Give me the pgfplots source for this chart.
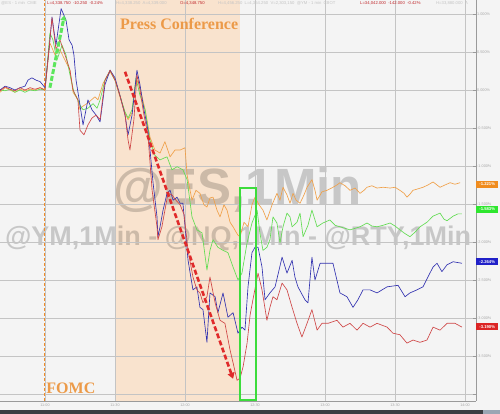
\documentclass[border=0pt]{standalone}
\usepackage{fontspec}
\setmainfont{Liberation Sans}
\newfontfamily\annfont{Liberation Serif}
\usepackage{pgfplots}
\pgfplotsset{compat=1.18}
\usetikzlibrary{arrows.meta}
\definecolor{bgc}{HTML}{F4F4F4}
\definecolor{pressc}{HTML}{F9E3CE}
\definecolor{gridc}{HTML}{C4C4C4}
\definecolor{axc}{HTML}{9A9A9A}
\definecolor{labc}{HTML}{A8A8A8}
\definecolor{esc}{HTML}{F0A048}
\definecolor{nqc}{HTML}{62DC52}
\definecolor{ymc}{HTML}{3232B0}
\definecolor{rtyc}{HTML}{CF4646}
\definecolor{annc}{HTML}{EC9A48}
\definecolor{fomcl}{HTML}{F08C28}
\definecolor{tagor}{HTML}{F08C1E}
\definecolor{taggr}{HTML}{2EE62E}
\definecolor{tagbl}{HTML}{2020C8}
\definecolor{tagrd}{HTML}{DC2424}
\definecolor{boxg}{HTML}{3CDC3C}
\definecolor{arrg}{HTML}{5CE65C}
\definecolor{arrr}{HTML}{E02A2A}
\definecolor{topred}{HTML}{C0282C}
\definecolor{topgr}{HTML}{C4C4C4}
\definecolor{barc}{HTML}{3A3D42}
\definecolor{barl}{HTML}{9AA6B4}
\begin{document}
\begin{tikzpicture}[x=1pt,y=1pt]
\useasboundingbox (0,-13) rectangle (500,401);
\fill[bgc] (0,-13) rectangle (500,401);
\fill[barc] (0,-13) rectangle (500,-9);
\fill[barl] (483,-13) rectangle (500,-9);
% press conference window (30 to 83.6 min after 11:00)
\fill[pressc] (115,0) rectangle (240,401);
% watermarks
\node[text=black, text opacity=0.18, font=\bfseries\fontsize{51}{51}\selectfont] at (238,211) {@ES,1Min};
\node[text=black, text opacity=0.18, font=\bfseries\fontsize{27}{27}\selectfont] at (238,163) {@YM,1Min - @NQ,1Min - @RTY,1Min};
\begin{axis}[at={(0,0)}, anchor=south west, scale only axis,
  width=476pt, height=401pt,
  xmin=-19.29, xmax=184.71, ymin=-4.092, ymax=1.184,
  axis x line*=bottom, axis y line*=right,
  axis line style={draw=axc, line width=0.9pt},
  xtick={0,30,60,90,120,150,180},
  xticklabels={11:00,11:30,12:00,12:30,13:00,13:30,14:00},
  ytick={-4,-3.5,-3,-2.5,-2,-1.5,-1,-0.5,0,0.5,1},
  yticklabels={,-3.500\%,-3.000\%,-2.500\%,-2.000\%,-1.500\%,-1.000\%,-0.500\%,0.000\%,0.500\%,1.000\%},
  grid=major, major grid style={draw=gridc, line width=0.5pt},
  xtick style={draw=none},
  ytick style={draw=axc, line width=0.5pt}, major tick length=3pt,
  xticklabel style={font=\fontsize{3.8}{4}\selectfont, text=labc, inner sep=0.5pt, yshift=-2pt},
  yticklabel style={font=\fontsize{3.8}{4}\selectfont, text=labc, inner sep=0.5pt, xshift=0.5pt},
  clip=false,
  every axis plot/.append style={line width=0.65pt, no markers, line join=round},
]
% ES
\addplot[esc] coordinates {(-19.3,-0.03)(-17.1,0.03)(-15.0,0.00)(-12.9,-0.03)(-10.7,0.01)(-8.6,-0.01)(-6.4,0.01)(-4.3,0.00)(-2.1,0.03)(0,0.00)(2.1,0.62)(4.3,0.46)(6.4,0.53)(8.6,0.39)(10.7,0.26)(12.0,-0.03)(14.1,-0.13)(15.0,-0.26)(15.9,-0.22)(18.4,-0.17)(21.4,-0.09)(22.7,-0.13)(24.9,0.09)(26.6,0.17)(27.9,0.24)(30.0,0.13)(32.1,-0.09)(34.3,-0.30)(35.6,-0.39)(37.3,-0.30)(38.6,0.04)(39.9,0.13)(41.6,-0.09)(42.9,-0.26)(45.0,-0.62)(47.1,-0.79)(49.3,-0.83)(51.4,-0.68)(53.6,-0.88)(55.7,-0.79)(57.9,-0.79)(60.0,-0.76)(60.9,-1.12)(63.0,-1.45)(64.7,-1.32)(66.4,-1.36)(68.1,-1.51)(69.4,-1.54)(70.7,-1.42)(72.0,-1.41)(73.7,-1.58)(75.0,-1.67)(76.7,-1.51)(78.0,-1.58)(79.3,-1.74)(80.6,-1.80)(81.9,-1.87)(82.7,-1.91)(83.6,-1.93)(85.3,-1.74)(87.0,-1.80)(88.7,-1.51)(90.0,-1.41)(91.7,-1.51)(93.4,-1.58)(95.1,-1.71)(97.3,-1.51)(99.4,-1.36)(100.7,-1.45)(102.0,-1.28)(103.7,-1.38)(105.0,-1.49)(106.3,-1.36)(107.6,-1.45)(109.3,-1.49)(111.0,-1.38)(112.3,-1.28)(114.4,-1.18)(115.7,-1.32)(116.6,-1.45)(118.7,-1.34)(120.9,-1.32)(123.4,-1.28)(125.1,-1.25)(126.4,-1.22)(128.6,-1.26)(130.7,-1.32)(132.9,-1.29)(135.0,-1.36)(136.7,-1.32)(138.0,-1.28)(140.1,-1.26)(142.3,-1.29)(144.9,-1.28)(147.9,-1.29)(150.0,-1.28)(152.1,-1.32)(153.9,-1.36)(155.1,-1.41)(156.4,-1.37)(157.7,-1.32)(159.9,-1.30)(162.0,-1.28)(164.1,-1.25)(166.3,-1.21)(168.0,-1.25)(169.3,-1.28)(171.4,-1.25)(173.6,-1.22)(175.7,-1.24)(177.9,-1.22)};
% NQ
\addplot[nqc] coordinates {(-19.3,0.00)(-17.1,-0.01)(-15.0,0.01)(-12.9,-0.03)(-10.7,0.00)(-8.6,-0.03)(-6.4,0.00)(-4.3,-0.01)(-2.1,0.01)(0,0.00)(2.1,0.75)(3.4,0.66)(5.1,0.39)(7.3,0.59)(9.0,0.46)(10.7,0.20)(12.4,-0.03)(14.1,-0.13)(15.0,-0.20)(16.3,-0.26)(18.4,-0.24)(20.6,-0.18)(22.3,-0.24)(23.6,-0.13)(25.7,0.13)(27.9,0.26)(30.0,0.13)(32.1,-0.07)(34.3,-0.29)(35.6,-0.37)(37.3,-0.26)(39.0,0.16)(40.7,-0.07)(42.9,-0.26)(45.0,-0.66)(47.1,-0.86)(49.3,-0.92)(51.4,-0.89)(52.3,-0.88)(54.4,-1.05)(56.6,-1.01)(59.1,-1.05)(60.9,-1.18)(63.0,-1.67)(65.1,-1.84)(67.3,-1.88)(69.4,-2.37)(70.7,-2.11)(72.0,-1.97)(74.1,-2.07)(76.3,-2.11)(78.4,-2.14)(80.6,-2.33)(82.7,-2.50)(84.4,-2.41)(86.6,-2.01)(88.7,-1.75)(90.9,-1.58)(92.1,-1.88)(93.4,-2.11)(95.1,-2.07)(96.4,-1.97)(97.7,-1.67)(99.4,-1.75)(100.7,-2.01)(102.0,-1.80)(103.7,-1.62)(105.0,-1.67)(105.9,-1.80)(108.0,-1.74)(109.3,-1.62)(110.6,-1.93)(112.7,-1.78)(114.4,-1.58)(116.6,-1.80)(119.1,-1.75)(122.1,-1.71)(124.3,-1.78)(126.4,-1.80)(128.6,-1.82)(130.7,-1.84)(132.9,-1.82)(135.0,-1.80)(138.0,-1.75)(140.1,-1.79)(142.3,-1.80)(144.9,-1.78)(147.9,-1.75)(150.0,-1.79)(152.1,-1.84)(154.3,-1.89)(156.4,-1.93)(158.6,-1.87)(160.7,-1.80)(163.7,-1.74)(166.3,-1.66)(169.3,-1.62)(171.0,-1.70)(172.3,-1.72)(174.9,-1.66)(177.0,-1.63)(178.7,-1.63)};
% YM
\addplot[ymc] coordinates {(-19.3,0.00)(-17.1,0.05)(-15.0,0.03)(-12.9,0.00)(-10.7,0.03)(-8.6,0.05)(-7.3,0.13)(-5.6,0.16)(-3.9,0.13)(-2.1,0.11)(0,0.03)(1.7,0.53)(3.0,0.96)(4.7,0.59)(6.9,1.07)(9.0,0.92)(10.3,0.66)(11.6,0.59)(12.4,0.46)(13.3,0.13)(15.0,-0.20)(16.3,-0.46)(18.4,-0.13)(20.1,-0.26)(21.9,-0.33)(23.6,-0.42)(25.7,0.07)(27.9,0.26)(30.0,0.16)(32.1,-0.07)(34.3,-0.33)(35.6,-0.59)(37.3,-0.33)(39.4,0.26)(40.7,0.07)(42.4,-0.26)(44.1,-0.53)(45.0,-0.79)(46.3,-1.22)(48.0,-1.67)(48.4,-1.93)(49.3,-1.80)(50.6,-1.58)(52.3,-1.36)(53.6,-1.32)(54.9,-1.45)(56.6,-1.41)(57.9,-1.49)(59.1,-1.49)(61.3,-2.24)(63.4,-2.63)(65.1,-2.59)(66.4,-2.86)(67.7,-2.89)(69.4,-3.32)(70.7,-2.67)(72.9,-2.72)(74.1,-2.93)(76.3,-2.67)(78.4,-2.99)(80.6,-2.93)(82.7,-3.20)(84.4,-3.12)(85.7,-3.16)(87.0,-2.59)(88.7,-2.14)(90.0,-2.07)(91.3,-2.07)(93.0,-2.33)(94.3,-2.76)(96.4,-2.67)(98.6,-2.59)(101.6,-2.20)(103.7,-2.41)(105.9,-2.24)(107.1,-2.46)(108.4,-2.59)(111.4,-2.76)(112.7,-2.80)(114.4,-2.20)(115.7,-2.50)(117.9,-2.28)(120.9,-2.28)(123.4,-2.28)(126.4,-2.67)(129.4,-2.72)(132.0,-2.86)(134.1,-2.76)(136.3,-2.63)(139.3,-2.63)(142.3,-2.67)(146.6,-2.59)(151.3,-2.57)(154.3,-2.72)(156.4,-2.67)(159.4,-2.63)(162.0,-2.59)(164.1,-2.46)(166.3,-2.33)(168.0,-2.28)(170.1,-2.39)(172.3,-2.30)(174.9,-2.26)(178.7,-2.28)};
% RTY
\addplot[rtyc] coordinates {(-19.3,-0.01)(-17.1,0.04)(-15.0,0.01)(-12.9,-0.01)(-10.7,0.03)(-8.6,0.00)(-6.4,0.03)(-4.3,0.01)(-2.1,0.03)(0,0.00)(3.0,0.95)(4.7,0.53)(6.4,0.66)(8.6,0.46)(10.7,0.26)(12.0,0.00)(14.1,-0.13)(15.0,-0.53)(16.7,-0.59)(18.4,-0.46)(20.1,-0.37)(21.9,-0.33)(23.6,-0.39)(25.7,0.13)(27.9,0.26)(30.0,0.13)(32.1,-0.07)(34.3,-0.33)(35.6,-0.66)(36.4,-0.79)(38.1,-0.39)(39.4,0.20)(40.7,0.00)(42.4,-0.33)(44.1,-0.59)(45.9,-1.32)(48.0,-1.80)(48.4,-1.97)(50.1,-1.80)(51.4,-1.58)(52.7,-1.36)(54.4,-1.38)(56.1,-1.45)(57.9,-1.51)(59.6,-1.64)(61.3,-2.11)(63.4,-2.46)(65.1,-2.63)(66.4,-2.67)(67.7,-2.80)(69.4,-2.72)(70.7,-2.46)(72.9,-2.80)(75.0,-3.03)(77.1,-3.07)(79.3,-3.42)(80.6,-3.59)(82.3,-3.82)(83.6,-3.79)(84.9,-3.64)(86.6,-3.33)(87.9,-2.96)(89.1,-2.76)(91.3,-2.41)(93.0,-2.63)(95.1,-3.03)(96.4,-2.86)(97.7,-2.72)(99.4,-2.76)(101.6,-2.54)(103.7,-2.63)(105.9,-2.86)(108.0,-3.07)(110.1,-3.25)(112.3,-3.07)(114.4,-2.89)(116.6,-3.16)(118.7,-3.07)(121.3,-3.07)(125.1,-3.03)(127.7,-3.12)(130.7,-3.07)(133.7,-3.16)(136.3,-3.07)(139.3,-3.12)(142.3,-3.07)(146.6,-3.12)(149.1,-3.20)(152.1,-3.22)(155.1,-3.33)(157.7,-3.29)(160.7,-3.32)(163.7,-3.29)(166.3,-3.12)(169.3,-3.16)(172.3,-3.07)(175.7,-3.07)(178.7,-3.12)};
% FOMC line
\draw[fomcl, line width=1pt, dash pattern=on 3pt off 2pt] (axis cs:-0.3,-4.092) -- (axis cs:-0.3,1.184);
% annotations
\node[annc, font=\annfont\bfseries\fontsize{16}{16}\selectfont] at (axis cs:57.5,0.87) {Press Conference};
\node[annc, font=\annfont\bfseries\fontsize{16}{16}\selectfont] at (axis cs:11.1,-3.92) {FOMC};
\draw[boxg, line width=2pt] (axis cs:83.6,-1.29) rectangle (axis cs:90.4,-4.08);
\draw[arrr, line width=2.6pt, dash pattern=on 5pt off 2.5pt, -{Triangle[length=6pt,width=7pt]}] (axis cs:34.3,0.24) -- (axis cs:80.6,-3.80);
\draw[arrg, line width=3pt, dash pattern=on 5pt off 2pt, -{Triangle[length=5pt,width=6pt]}] (axis cs:2.1,0.03) -- (axis cs:8.3,0.98);
% last-value tags
\node[fill=tagor, text=white, font=\bfseries\fontsize{4.2}{4.2}\selectfont, anchor=west, minimum width=22pt, minimum height=7pt, inner sep=0.5pt] at (axis cs:184.71,-1.237) {-1.221\%};
\node[fill=taggr, text=white, font=\bfseries\fontsize{4.2}{4.2}\selectfont, anchor=west, minimum width=22pt, minimum height=7pt, inner sep=0.5pt] at (axis cs:184.71,-1.566) {-1.583\%};
\node[fill=tagbl, text=white, font=\bfseries\fontsize{4.2}{4.2}\selectfont, anchor=west, minimum width=22pt, minimum height=7pt, inner sep=0.5pt] at (axis cs:184.71,-2.263) {-2.264\%};
\node[fill=tagrd, text=white, font=\bfseries\fontsize{4.2}{4.2}\selectfont, anchor=west, minimum width=22pt, minimum height=7pt, inner sep=0.5pt] at (axis cs:184.71,-3.118) {-3.190\%};
\end{axis}
% top info bar
\begin{scope}[every node/.style={anchor=west, inner sep=0pt, font=\fontsize{4.2}{4.2}\selectfont}]
\node[text=topgr] at (1,398) {@ES - 1 min \ CME};
\node[text=topred] at (47,398) {L=4,338.750 \ -10.250 \ -0.24\%};
\node[text=topgr] at (116,398) {H=4,338.250 \ A=4,339.000};
\node[text=topred] at (180,398) {O=4,348.750};
\node[text=topgr] at (218,398) {H=4,456.250 \ L=4,354.250 \ V=2,303,150 \ @YM - 1 min \ CBOT};
\node[text=topred] at (360,398) {L=34,042.000 \ -142.000 \ -0.42\%};
\node[text=topgr] at (436,398) {H=33,880.000 \ A};
\end{scope}
\end{tikzpicture}
\end{document}
